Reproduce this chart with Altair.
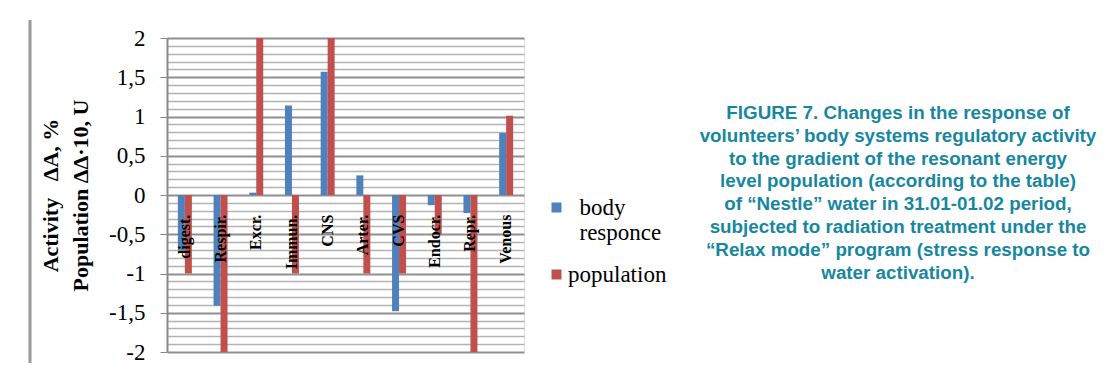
import altair as alt
import pandas as pd

# ---- data ----
categories = ["digest.", "Respir.", "Excr.", "Immun.", "CNS", "Arter.", "CVS", "Endocr.", "Repr.", "Venous"]
body_response = [-0.70, -1.41, 0.03, 1.14, 1.57, 0.25, -1.48, -0.13, -0.23, 0.79]
population = [-1.0, -2.0, 2.0, -1.0, 2.0, -1.0, -1.0, -0.5, -2.0, 1.01]
series_names = ["body responce", "population"]
series_colors = ["#4f81bd", "#c0504d"]
y_tick_values = [round(-2 + 0.1 * i, 1) for i in range(41)]
y_title_lines = ["Activity \u2002\u0394A, %", "Population \u0394\u0394\u00b710, U"]
caption_lines = [
    "FIGURE 7. Changes in the response of",
    "volunteers\u2019 body systems regulatory activity",
    "to the gradient of the resonant energy",
    "level population (according to the table)",
    "of \u201cNestle\u201d water in 31.01-01.02 period,",
    "subjected to radiation treatment under the",
    "\u201cRelax mode\u201d program (stress response to",
    "water activation).",
]

rows = []
for c, b, p in zip(categories, body_response, population):
    rows.append({"system": c, "series": series_names[0], "value": b})
    rows.append({"system": c, "series": series_names[1], "value": p})
df = pd.DataFrame(rows)
labels_df = pd.DataFrame({"system": categories})

W, H = 357, 314
BAND = W / len(categories)
BAR = 7
SERIF = "Liberation Serif"
major = "abs(round(datum.value*10)) % 5 == 0"

xscale = alt.Scale(domain=categories, paddingInner=0, paddingOuter=0)
yscale = alt.Scale(domain=[-2, 2], nice=False, zero=False)
off0 = (BAND - 2 * BAR) / 2
offscale = alt.Scale(domain=series_names, paddingInner=0, paddingOuter=0,
                     range=[off0, off0 + 2 * BAR])

y_axis = alt.Axis(
    values=y_tick_values, tickCount=100,
    labelExpr=f"{major} ? replace(toString(datum.value), '.', ',') : ''",
    labelFont=SERIF, labelFontSize=23, labelColor="black", labelPadding=15,
    labelOverlap=False, labelFlush=False,
    grid=True,
    gridColor={"condition": {"test": major, "value": "#8f8f8f"}, "value": "#b3b3b3"},
    gridWidth={"condition": {"test": major, "value": 2}, "value": 1.6},
    tickSize=7, tickColor="#888888",
    tickOpacity={"condition": {"test": major, "value": 1}, "value": 0},
    domainColor="#888888", domainWidth=2,
    title=y_title_lines, titleFont=SERIF, titleFontWeight="bold", titleFontSize=22,
    titleLineHeight=30, titleColor="black", titlePadding=16,
)

bars = alt.Chart(df).mark_bar().encode(
    x=alt.X("system:N", scale=xscale, sort=categories, axis=None),
    xOffset=alt.XOffset("series:N", sort=series_names, scale=offscale),
    y=alt.Y("value:Q", scale=yscale, axis=y_axis),
    color=alt.Color(
        "series:N",
        scale=alt.Scale(domain=series_names, range=series_colors),
        legend=alt.Legend(
            title=None, orient="none", legendX=378, legendY=165,
            symbolType="M-1,-2.4L1,-2.4L1,-0.4L-1,-0.4Z", symbolSize=100,
            symbolStrokeWidth=0,
            labelFont=SERIF, labelFontSize=23, labelColor="black",
            labelBaseline="alphabetic", labelOffset=0, rowPadding=18,
            labelExpr="datum.label == 'body responce' ? ['\u200b\u2002body', '\u200b\u2002responce'] : datum.label",
        ),
    ),
)

cat_labels = alt.Chart(labels_df).mark_text(
    angle=270, align="right", baseline="middle", font=SERIF, fontSize=16,
    fontWeight="bold", color="black",
).encode(
    x=alt.X("system:N", scale=xscale, sort=categories, axis=None),
    y=alt.datum(-0.25),
    text="system:N",
)

frame = alt.Chart(pd.DataFrame({"k": [0]})).mark_rule(color="#9a9a9a", strokeWidth=3).encode(
    x=alt.value(-137), y=alt.value(-18), y2=alt.value(325)
)

caption = alt.Chart(pd.DataFrame({"k": [0]})).mark_text(
    font="Liberation Sans", fontWeight="bold", fontSize=18.8, color="#17879f",
    align="center", baseline="middle", lineHeight=22.8,
).encode(
    x=alt.value(731), y=alt.value(75), text=alt.value(caption_lines)
)

chart = alt.layer(bars, cat_labels, frame, caption).properties(
    width=W, height=H,
    autosize="none",
    padding={"left": 159, "top": 30, "right": 574, "bottom": 21},
).configure_view(stroke=None).configure(background="white")

chart.save("out.html", embed_options={"renderer": "svg", "actions": False})
